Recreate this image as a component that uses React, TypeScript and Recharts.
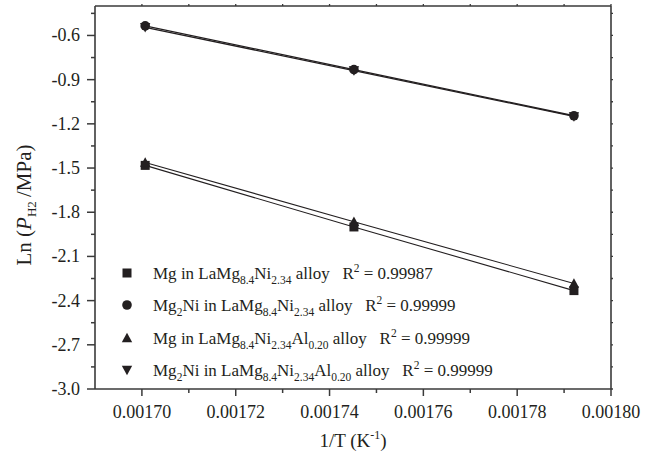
import React from "react";
import { LineChart, Line, XAxis, YAxis, Legend } from "recharts";

// 1/T values (K^-1)
const invT = [0.0017007, 0.0017452, 0.0017921];
// Ln(P_H2/MPa) values per series
const mgLaMgNi = [-1.482, -1.9, -2.332];
const mg2niLaMgNi = [-0.535, -0.832, -1.145];
const mgLaMgNiAl = [-1.462, -1.864, -2.284];
const mg2niLaMgNiAl = [-0.545, -0.838, -1.15];

const xTicks = [0.0017, 0.00171, 0.00172, 0.00173, 0.00174, 0.00175, 0.00176, 0.00177, 0.00178, 0.00179, 0.0018];
const yTicks = [-3.0, -2.85, -2.7, -2.55, -2.4, -2.25, -2.1, -1.95, -1.8, -1.65, -1.5, -1.35, -1.2, -1.05, -0.9, -0.75, -0.6, -0.45];

const legendRows = [
  { marker: "square", mg2: false, r2: "0.99987", al: false },
  { marker: "circle", mg2: true, r2: "0.99999", al: false },
  { marker: "triUp", mg2: false, r2: "0.99999", al: true },
  { marker: "triDown", mg2: true, r2: "0.99999", al: true },
];

const data = invT.map((x, i) => ({
  x,
  a: mgLaMgNi[i],
  b: mg2niLaMgNi[i],
  c: mgLaMgNiAl[i],
  d: mg2niLaMgNiAl[i],
}));

const INK = "#231f20";
const AX = "#3a3a3a";
const FONT = "'Liberation Serif', 'Times New Roman', serif";

function Marker({ kind, cx, cy }: { kind: string; cx: number; cy: number }) {
  if (kind === "square") return <rect x={cx - 4.5} y={cy - 4.5} width={9} height={9} fill={INK} />;
  if (kind === "circle") return <circle cx={cx} cy={cy} r={4.8} fill={INK} />;
  if (kind === "triUp")
    return <polygon points={`${cx - 5.2},${cy + 4.3} ${cx + 5.2},${cy + 4.3} ${cx},${cy - 5.2}`} fill={INK} />;
  return <polygon points={`${cx - 5.2},${cy - 4.3} ${cx + 5.2},${cy - 4.3} ${cx},${cy + 5.2}`} fill={INK} />;
}

const makeDot = (kind: string) => (props: any) => (
  <Marker key={`${kind}-${props.index}`} kind={kind} cx={props.cx} cy={props.cy} />
);

const isMajorX = (v: number) => Math.round(v * 1e5) % 2 === 0;
const isMajorY = (v: number) => Math.abs(Math.round(v * 100)) % 30 === 0;

const XTickBottom = (props: any) => {
  const { x, y, payload } = props;
  const major = isMajorX(payload.value);
  return (
    <g>
      <line x1={x} y1={y} x2={x} y2={y + (major ? 7 : 4)} stroke={AX} strokeWidth={1.5} />
      {major && (
        <text x={x} y={y + 29} textAnchor="middle" fontSize={18} fontFamily={FONT} fill={INK}>
          {payload.value.toFixed(5)}
        </text>
      )}
    </g>
  );
};

const XTickTop = (props: any) => {
  const { x, y } = props;
  return <line x1={x} y1={y} x2={x} y2={y - 2} stroke={AX} strokeWidth={1.3} />;
};

const YTickLeft = (props: any) => {
  const { x, y, payload } = props;
  const major = isMajorY(payload.value);
  return (
    <g>
      <line x1={x - (major ? 8 : 4)} y1={y} x2={x} y2={y} stroke={AX} strokeWidth={1.5} />
      {major && (
        <text x={x - 15} y={y + 6} textAnchor="end" fontSize={18} fontFamily={FONT} fill={INK}>
          {payload.value.toFixed(1)}
        </text>
      )}
    </g>
  );
};

const YTickRight = (props: any) => {
  const { x, y } = props;
  return <line x1={x} y1={y} x2={x + 2} y2={y} stroke={AX} strokeWidth={1.3} />;
};

const XTitle = (props: any) => {
  const vb = props.viewBox;
  return (
    <text x={vb.x + vb.width / 2} y={vb.y + 58} textAnchor="middle" fontSize={19} fontFamily={FONT} fill={INK}>
      1/T (K
      <tspan fontSize={12} dy={-8}>-1</tspan>
      <tspan dy={8}>)</tspan>
    </text>
  );
};

const YTitle = () => {
  const cx = 31;
  const cy = 205;
  return (
    <text
      x={cx}
      y={cy}
      textAnchor="middle"
      transform={`rotate(-90 ${cx} ${cy})`}
      fontSize={21}
      fontFamily={FONT}
      fill={INK}
    >
      Ln (<tspan fontStyle="italic">P</tspan>
      <tspan fontSize={13} dy={5}>H2</tspan>
      <tspan dy={-5}>{"\u2009"}/MPa)</tspan>
    </text>
  );
};

const SUB = 11.5;
const LegendContent = () => {
  const rowY = [18, 50, 83, 115];
  return (
    <svg width={380} height={135} style={{ overflow: "visible" }}>
      {legendRows.map((r, i) => {
        const cy = rowY[i];
        return (
          <g key={i}>
            <Marker kind={r.marker} cx={17} cy={cy} />
            <text x={43} y={cy + 6} fontSize={17} fontFamily={FONT} fill={INK}>
              Mg
              {r.mg2 ? (
                <>
                  <tspan fontSize={SUB} dy={5}>2</tspan>
                  <tspan dy={-5}>Ni in LaMg</tspan>
                </>
              ) : (
                <tspan> in LaMg</tspan>
              )}
              <tspan fontSize={SUB} dy={5}>8.4</tspan>
              <tspan dy={-5}>Ni</tspan>
              <tspan fontSize={SUB} dy={5}>2.34</tspan>
              {r.al ? (
                <>
                  <tspan dy={-5}>Al</tspan>
                  <tspan fontSize={SUB} dy={5}>0.20</tspan>
                  <tspan dy={-5}>{" alloy\u00a0\u00a0\u00a0R"}</tspan>
                </>
              ) : (
                <tspan dy={-5}>{" alloy\u00a0\u00a0\u00a0R"}</tspan>
              )}
              <tspan fontSize={SUB} dy={-7}>2</tspan>
              <tspan dy={7}>{` = ${r.r2}`}</tspan>
            </text>
          </g>
        );
      })}
    </svg>
  );
};

export default function App() {
  return (
    <div style={{ position: "absolute", left: 0, top: 0, background: "#fff" }}>
      <LineChart width={656} height={461} data={data} margin={{ top: 5, right: 44, left: 0, bottom: 0 }}>
        <XAxis
          xAxisId="b"
          dataKey="x"
          type="number"
          domain={[0.00169, 0.0018]}
          ticks={xTicks}
          allowDataOverflow
          height={72}
          tickLine={false}
          tickSize={0}
          tickMargin={0}
          tick={<XTickBottom />}
          axisLine={{ stroke: AX, strokeWidth: 1.6 }}
          interval={0}
          label={{ content: <XTitle /> }}
        />
        <XAxis
          xAxisId="t"
          dataKey="x"
          type="number"
          orientation="top"
          domain={[0.00169, 0.0018]}
          ticks={xTicks}
          allowDataOverflow
          height={1}
          tickLine={false}
          tickSize={0}
          tickMargin={0}
          tick={<XTickTop />}
          axisLine={{ stroke: AX, strokeWidth: 1.6 }}
          interval={0}
        />
        <YAxis
          yAxisId="l"
          type="number"
          domain={[-3.0, -0.4]}
          ticks={yTicks}
          allowDataOverflow
          width={95}
          tickLine={false}
          tickSize={0}
          tickMargin={0}
          tick={<YTickLeft />}
          axisLine={{ stroke: AX, strokeWidth: 1.6 }}
          interval={0}
          label={{ content: <YTitle /> }}
        />
        <YAxis
          yAxisId="r"
          type="number"
          orientation="right"
          domain={[-3.0, -0.4]}
          ticks={yTicks}
          allowDataOverflow
          width={1}
          tickLine={false}
          tickSize={0}
          tickMargin={0}
          tick={<YTickRight />}
          axisLine={{ stroke: AX, strokeWidth: 1.6 }}
          interval={0}
        />
        <Legend
          layout="horizontal"
          verticalAlign="middle"
          align="center"
          wrapperStyle={{ left: 110, top: 255, width: 380, height: 135 }}
          content={<LegendContent />}
        />
        {/* hidden series bound to the mirrored frame axes so they are drawn */}
        <Line xAxisId="t" yAxisId="r" dataKey="b" stroke="none" dot={false} activeDot={false} legendType="none" isAnimationActive={false} />
        <Line xAxisId="b" yAxisId="l" dataKey="a" name="Mg in LaMg8.4Ni2.34 alloy" type="linear" stroke={INK} strokeWidth={1.1} dot={makeDot("square")} activeDot={false} isAnimationActive={false} />
        <Line xAxisId="b" yAxisId="l" dataKey="b" name="Mg2Ni in LaMg8.4Ni2.34 alloy" type="linear" stroke={INK} strokeWidth={1.3} dot={makeDot("circle")} activeDot={false} isAnimationActive={false} />
        <Line xAxisId="b" yAxisId="l" dataKey="c" name="Mg in LaMg8.4Ni2.34Al0.20 alloy" type="linear" stroke={INK} strokeWidth={1.1} dot={makeDot("triUp")} activeDot={false} isAnimationActive={false} />
        <Line xAxisId="b" yAxisId="l" dataKey="d" name="Mg2Ni in LaMg8.4Ni2.34Al0.20 alloy" type="linear" stroke={INK} strokeWidth={1.3} dot={makeDot("triDown")} activeDot={false} isAnimationActive={false} />
      </LineChart>
    </div>
  );
}
